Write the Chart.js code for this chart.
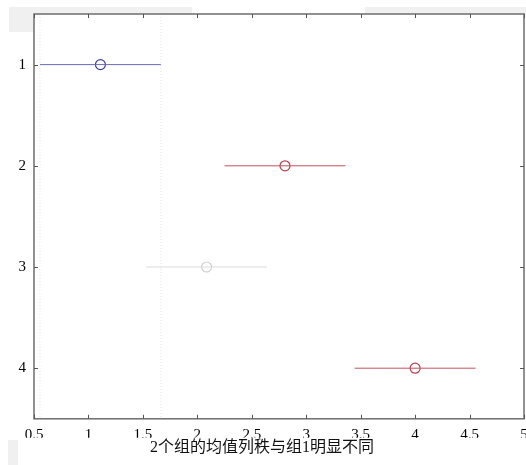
<!DOCTYPE html>
<html>
<head>
<meta charset="utf-8">
<script src="https://cdn.jsdelivr.net/npm/chart.js@4/dist/chart.umd.min.js"></script>
<style>
html,body{margin:0;padding:0;background:#fff;}
canvas{display:block;}
</style>
</head>
<body>
<canvas id="c" width="526" height="465"></canvas>
<script>
// Data (multiple comparison of mean column ranks)
const groups = [1, 2, 3, 4];
const groupMeans = [1.11, 2.805, 2.085, 4.0];
const intervalLow = [0.555, 2.25, 1.53, 3.445];
const intervalHigh = [1.665, 3.36, 2.64, 4.555];
const groupColors = ['#6a6ab8', '#c4505e', '#dadada', '#c4505e'];
const markerColors = ['#3c3ca6', '#b8404e', '#d0d0d0', '#b8404e'];
const xTicks = [0.5, 1, 1.5, 2, 2.5, 3, 3.5, 4, 4.5, 5];
const yTicks = [1, 2, 3, 4];
const xLabel = '2个组的均值列秩与组1明显不同';

const FONT = "'Liberation Serif', 'DejaVu Serif', 'Noto Sans CJK SC', serif";
const RIGHT_PAD = 2;

const datasets = [];
// dotted reference lines at the bounds of group 1's interval
[intervalLow[0], intervalHigh[0]].forEach(v => {
  datasets.push({
    type: 'line',
    data: [{x: v, y: 0.5}, {x: v, y: 4.5}],
    borderColor: '#e4e4e4',
    borderWidth: 1,
    borderDash: [1, 2],
    pointRadius: 0,
    showLine: true
  });
});
groups.forEach((g, i) => {
  datasets.push({
    type: 'line',
    data: [{x: intervalLow[i], y: g}, {x: intervalHigh[i], y: g}],
    borderColor: groupColors[i],
    borderWidth: 1,
    pointRadius: 0,
    showLine: true
  });
});
groups.forEach((g, i) => {
  datasets.push({
    type: 'scatter',
    data: [{x: groupMeans[i], y: g}],
    borderColor: markerColors[i],
    backgroundColor: 'rgba(0,0,0,0)',
    borderWidth: 1.2,
    pointRadius: 5,
    pointStyle: 'circle'
  });
});

const decor = {
  id: 'decor',
  afterLayout(chart) {
    // let the plot box run to the right edge like the reference (last label clipped)
    const xs = chart.scales.x;
    const r = chart.width - RIGHT_PAD;
    xs.right = r;
    xs.width = r - xs.left;
    xs.configure();
    chart.chartArea.right = r;
    chart.chartArea.width = r - chart.chartArea.left;
  },
  beforeDraw(chart) {
    const ctx = chart.ctx;
    ctx.save();
    ctx.fillStyle = '#f0f0f0';
    ctx.fillRect(9, 7, 183, 7);
    ctx.fillRect(9, 14, 25, 18);
    ctx.fillRect(365, 7, 161, 7);
    ctx.fillRect(8, 440, 10, 25);
    ctx.restore();
  },
  afterDraw(chart) {
    const ctx = chart.ctx;
    const a = chart.chartArea;
    const xs = chart.scales.x, ys = chart.scales.y;
    ctx.save();
    ctx.strokeStyle = '#6e6e6e';
    ctx.lineWidth = 1.5;
    ctx.strokeRect(a.left, a.top, a.right - a.left, a.bottom - a.top);
    ctx.lineWidth = 1;
    ctx.strokeStyle = '#555';
    ctx.beginPath();
    xTicks.forEach(v => {
      const px = Math.round(xs.getPixelForValue(v)) + 0.5;
      ctx.moveTo(px, a.top); ctx.lineTo(px, a.top + 4);
      ctx.moveTo(px, a.bottom); ctx.lineTo(px, a.bottom - 4);
    });
    yTicks.forEach(v => {
      const py = Math.round(ys.getPixelForValue(v)) + 0.5;
      ctx.moveTo(a.left, py); ctx.lineTo(a.left + 4, py);
      ctx.moveTo(a.right, py); ctx.lineTo(a.right - 4, py);
    });
    ctx.stroke();
    ctx.restore();
  }
};

function zeroPad(s) {
  s.paddingLeft = 0; s.paddingRight = 0; s.paddingTop = 0; s.paddingBottom = 0;
}

new Chart(document.getElementById('c'), {
  type: 'scatter',
  data: {datasets},
  options: {
    responsive: false,
    animation: false,
    layout: {padding: {left: 0, right: RIGHT_PAD, top: 14, bottom: 0}},
    plugins: {
      legend: {display: false},
      tooltip: {enabled: false},
      title: {
        display: true, position: 'bottom', text: xLabel, color: '#111',
        font: {family: FONT, size: 16, weight: 'normal', lineHeight: 1.2},
        padding: {top: 0, bottom: 8}
      }
    },
    scales: {
      x: {
        type: 'linear',
        min: 0.5, max: 5,
        afterBuildTicks: s => { s.ticks = xTicks.map(v => ({value: v})); },
        afterFit: s => { s.height = 19; zeroPad(s); },
        grid: {display: false, drawTicks: false},
        border: {display: false},
        ticks: {
          color: '#000', padding: 7, maxRotation: 0, autoSkip: false,
          font: {family: FONT, size: 15},
          callback: v => String(v)
        }
      },
      y: {
        type: 'linear',
        reverse: true,
        min: 0.5, max: 4.5,
        afterBuildTicks: s => { s.ticks = yTicks.map(v => ({value: v})); },
        afterFit: s => { s.width = 34; zeroPad(s); },
        grid: {display: false, drawTicks: false},
        border: {display: false},
        ticks: {
          color: '#000', padding: 8, autoSkip: false,
          font: {family: FONT, size: 15},
          callback: v => String(v)
        }
      }
    }
  },
  plugins: [decor]
});
</script>
</body>
</html>
